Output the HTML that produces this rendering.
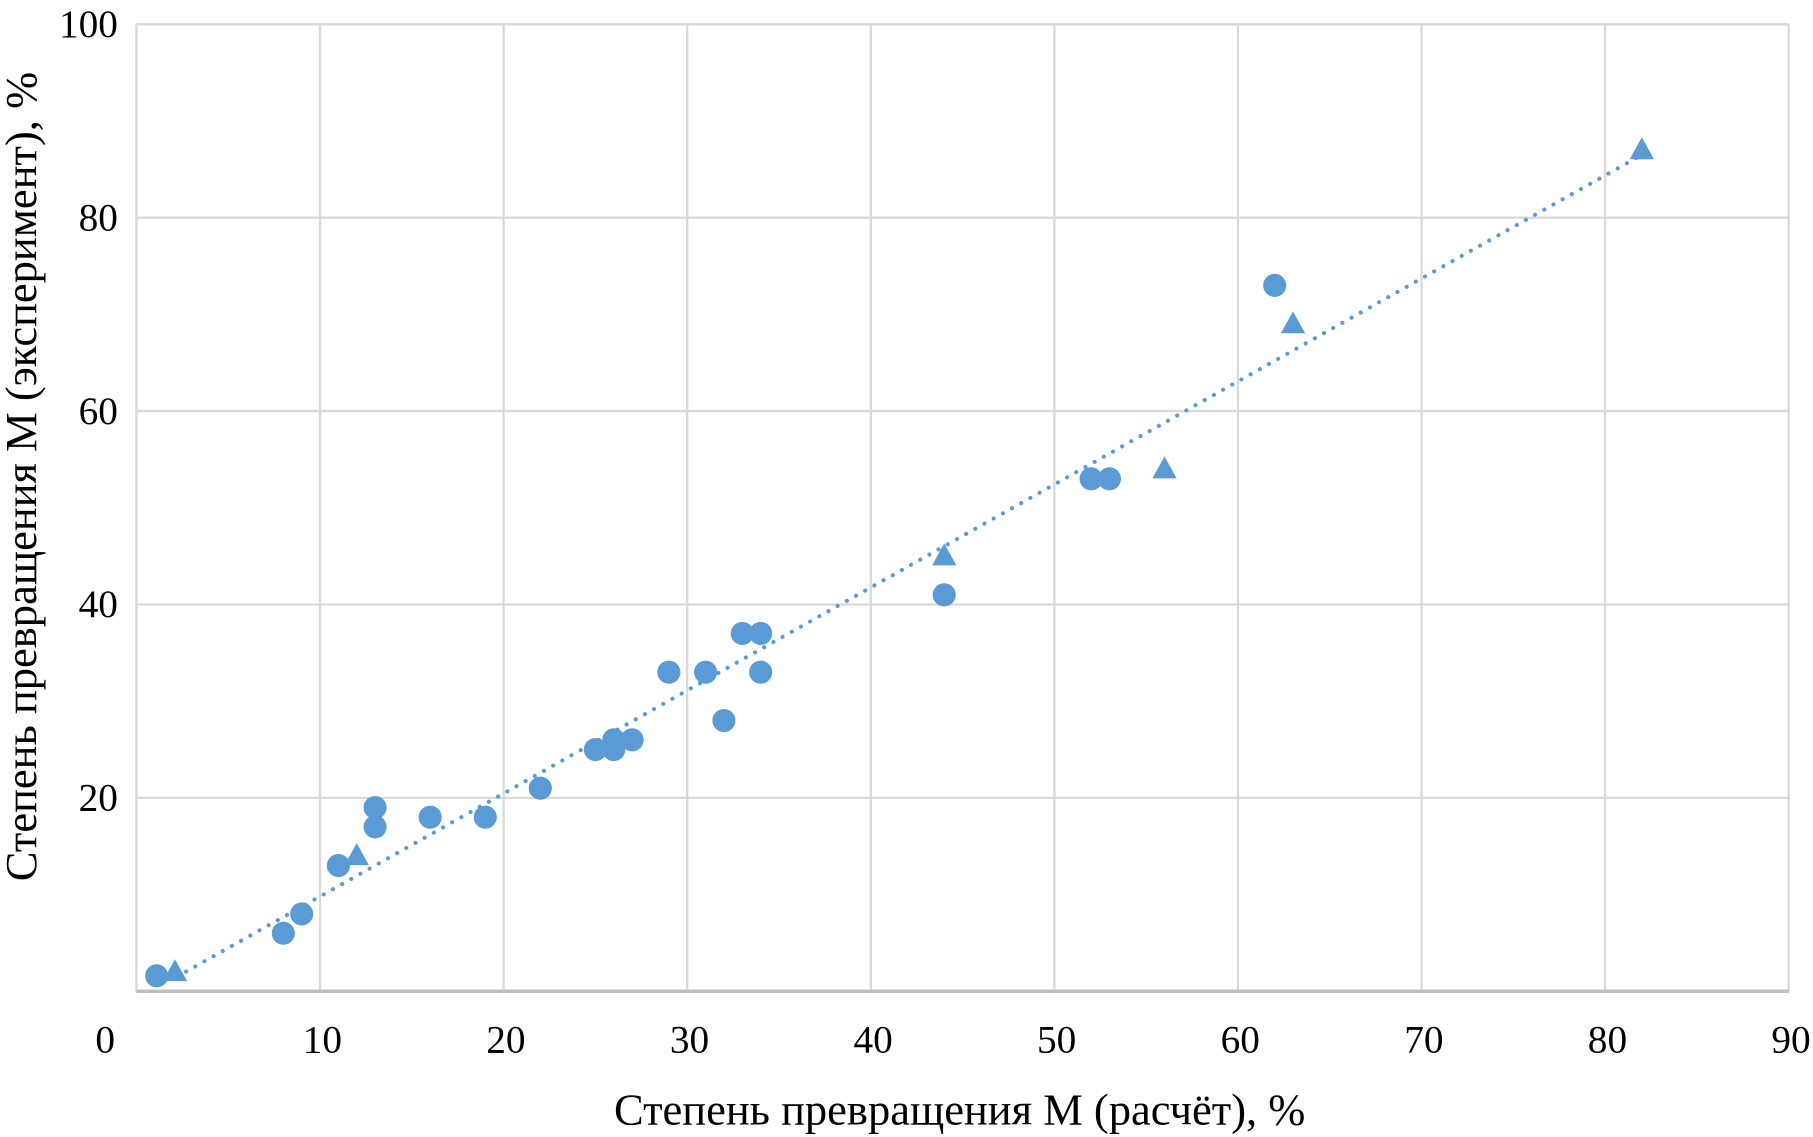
<!DOCTYPE html>
<html><head><meta charset="utf-8"><style>
html,body{margin:0;padding:0;background:#fff;}
svg{display:block;font-family:"Liberation Serif",serif;}
</style></head><body>
<svg id="chart" width="1813" height="1137" viewBox="0 0 1568 983" preserveAspectRatio="none" xmlns="http://www.w3.org/2000/svg">
<g id="grid"></g><g id="marks"></g><g id="labels"></g>
<text x="830" y="972" font-size="38.5" text-anchor="middle">Степень превращения М (расчёт), %</text>
<text transform="translate(31,412) rotate(-90)" font-size="38.5" text-anchor="middle">Степень превращения М (эксперимент), %</text>
</svg>
<script>
const xTicks=[0,10,20,30,40,50,60,70,80,90];
const yTicks=[20,40,60,80,100];
const circleX=[1.1,8.0,9,11,13,13,16,19,22,25,26,26,27,29,31,32,33,34,34,44,52,53,62];
const circleY=[1.6,6,8,13,19,17,18,18,21,25,26,25,26,33,33,28,37,37,33,41,53,53,73];
const triX=[2.1,12,44,56,63,82];
const triY=[2,14,45,54,69,87];
const trendX=[2.2,82];
const trendY=[1.5,86.5];
const NS="http://www.w3.org/2000/svg";
const L=118,R=1547,T=21,B=857;
const sx=v=>L+(v/90)*(R-L), sy=v=>B-(v/100)*(B-T);
const grid=document.getElementById('grid'),marks=document.getElementById('marks'),labels=document.getElementById('labels');
function mk(tag,attrs,parent){const e=document.createElementNS(NS,tag);for(const k in attrs)e.setAttribute(k,attrs[k]);parent.appendChild(e);return e;}
xTicks.forEach(t=>{
 if(t>0){const g=mk('line',{x1:sx(t),x2:sx(t),y1:T,y2:B,stroke:'#d9d9d9','stroke-width':2},grid);
 
 }
 const tx=mk('text',{x:t===0?91:sx(t)+2,y:910,'font-size':34,'text-anchor':'middle'},labels);tx.textContent=t;
 
 
});
yTicks.forEach(t=>{
 const g=mk('line',{x1:L,x2:R,y1:sy(t),y2:sy(t),stroke:'#d9d9d9','stroke-width':2},grid);
 
 
 const tx=mk('text',{x:102,y:sy(t)+11,'font-size':34,'text-anchor':'end'},labels);tx.textContent=t;
 
 
});
const lx=mk('line',{x1:L,x2:L,y1:T,y2:B,stroke:'#d9d9d9','stroke-width':2},grid);


const ax=mk('line',{x1:L,x2:R,y1:B,y2:B,stroke:'#bfbfbf','stroke-width':3},grid);


const tl=mk('line',{x1:sx(trendX[0]),y1:sy(trendY[0]),x2:sx(trendX[1]),y2:sy(trendY[1]),stroke:'#5b9bd5','stroke-width':3.5,'stroke-dasharray':'0.1 9','stroke-linecap':'round'},marks);


circleX.forEach((x,i)=>{
 const c=mk('circle',{cx:sx(x),cy:sy(circleY[i]),r:10,fill:'#5b9bd5'},marks);
 
 
});
triX.forEach((x,i)=>{
 const cx=sx(x),cy=sy(triY[i]);
 const p=mk('polygon',{points:`${cx},${cy-11} ${cx-10.5},${cy+8} ${cx+10.5},${cy+8}`,fill:'#5b9bd5'},marks);
 
 
});
</script>
</body></html>
